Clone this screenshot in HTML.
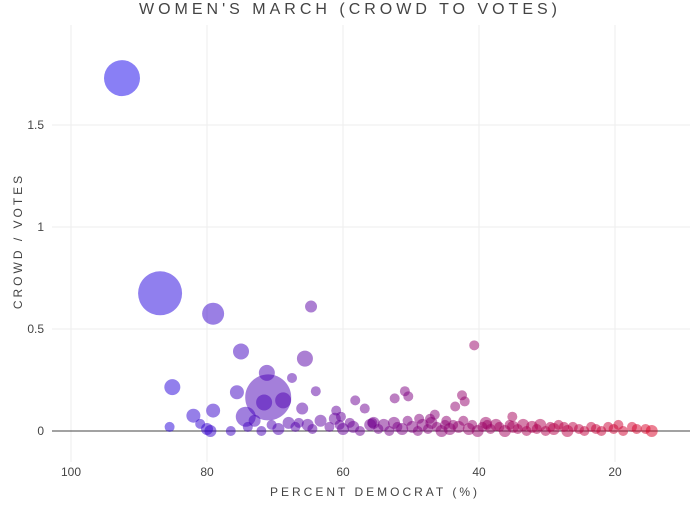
<!DOCTYPE html>
<html><head><meta charset="utf-8"><style>
body{margin:0;background:#fff;}
svg text{font-family:"Liberation Sans",sans-serif;fill:#444;}
</style></head><body>
<svg id="chart" width="700" height="500" xmlns="http://www.w3.org/2000/svg">
<text x="350" y="14" text-anchor="middle" font-size="16" letter-spacing="4">WOMEN'S MARCH (CROWD TO VOTES)</text>
<g id="grid"></g>
<g id="marks"></g>
<g id="axes"></g>
<text x="375" y="496" text-anchor="middle" font-size="12" letter-spacing="3">PERCENT DEMOCRAT (%)</text>
<text transform="translate(22,241) rotate(-90)" text-anchor="middle" font-size="12" letter-spacing="3">CROWD / VOTES</text>
</svg>
<script>
const pctDem=[92.5,86.9,79.1,85.1,75,64.7,65.6,71.2,75.6,71,
40.7,67.5,64,58.2,56.8,50.9,50.4,52.4,42.5,42.1,
43.5,74.3,82,79.1,71.6,68.8,35.1,
85.5,81,80,79.5,76.5,74,73,72,70.5,69.5,
68,67,66,65.2,64.5,63.3,62,61.2,60.5,60,
59,58.5,57.5,56,55.5,54.8,54,53.2,52.5,52,
51.3,50.5,49.8,49,48.3,47.5,47,46.2,45.5,45,
44.3,43.8,43,42.3,41.5,41,40.2,39.5,39,38.3,
37.5,37,36.2,35.5,35,34.3,33.5,33,32.2,31.5,
31,30.2,29.5,29,28.3,27.5,27,26.2,25.3,24.5,
23.5,22.8,22,21,20.2,19.5,18.8,17.5,16.8,15.5,
14.6,61,60.3,55.7,48.8,46.5,44.8,38.8,66.5,47.2];
const ratio=[1.73,0.675,0.575,0.215,0.39,0.61,0.355,0.285,0.19,0.165,
0.42,0.26,0.195,0.15,0.11,0.195,0.17,0.16,0.175,0.145,
0.12,0.07,0.075,0.1,0.14,0.15,0.07,
0.02,0.035,0.01,0,0,0.02,0.05,0,0.03,0.01,
0.04,0.02,0.11,0.03,0.01,0.05,0.02,0.06,0.03,0.01,
0.04,0.02,0,0.03,0.04,0.01,0.03,0,0.04,0.02,
0.01,0.05,0.02,0,0.03,0.01,0.04,0.02,0,0.03,
0.01,0.03,0.02,0.05,0.01,0.03,0,0.02,0.04,0.01,
0.03,0.02,0,0.03,0.02,0.01,0.03,0,0.02,0.01,
0.03,0,0.02,0.01,0.03,0.02,0,0.02,0.01,0,
0.02,0.01,0,0.02,0.01,0.03,0,0.02,0.01,0.01,
0,0.1,0.07,0.04,0.06,0.08,0.05,0.03,0.04,0.06];
const radius=[18,22,11,8,8,6,8,8,7,23,
5,5,5,5,5,5,5,5,5,5,
5,10,7,7,8,8,5,
5,5,6,6,5,5,6,5,5,6,
6,5,6,6,5,6,5,6,5,6,
5,6,5,6,6,5,6,5,6,5,
6,5,6,5,6,5,6,5,6,5,
6,5,6,5,6,5,6,5,6,5,
6,5,6,5,6,5,6,5,6,5,
6,5,5,6,5,5,6,5,5,5,
5,5,5,5,5,5,5,5,5,5,
6,5,5,5,5,5,5,5,5,5];
const xTicks=[100,80,60,40,20];
const yTicks=[0,0.5,1,1.5];
const X=v=>71+(100-v)*6.8;
const Y=v=>431-v*204;
const NS="http://www.w3.org/2000/svg";
const grid=document.getElementById('grid'),axes=document.getElementById('axes'),marks=document.getElementById('marks');
function mk(tag,attrs,parent){const e=document.createElementNS(NS,tag);for(const k in attrs)e.setAttribute(k,attrs[k]);parent.appendChild(e);return e;}
xTicks.forEach(t=>{
 const l=mk('line',{x1:X(t),x2:X(t),y1:25,y2:462,stroke:'#eee','stroke-width':1},grid);
 
 
 const tx=mk('text',{x:X(t),y:476,'text-anchor':'middle','font-size':12},axes);tx.textContent=t;
 
 
});
yTicks.forEach(t=>{
 if(t>0){const l=mk('line',{x1:52,x2:690,y1:Y(t),y2:Y(t),stroke:'#eee','stroke-width':1},grid);
 
 }
 const tx=mk('text',{x:44,y:Y(t)+4,'text-anchor':'end','font-size':12},axes);tx.textContent=t;
 
 
});
const zl=mk('line',{x1:52,x2:690,y1:Y(0),y2:Y(0),stroke:'#444','stroke-width':1},marks);


const n=Math.min(pctDem.length,ratio.length,radius.length);
for(let i=0;i<n;i++){
 const d=pctDem[i],f=d/100;
 const c=mk('circle',{cx:X(d),cy:Y(ratio[i]),r:radius[i],fill:`rgb(${Math.round(255*(1-f))},0,${Math.round(255*f)})`,'fill-opacity':0.5},marks);
 
 
}
</script>
</body></html>
